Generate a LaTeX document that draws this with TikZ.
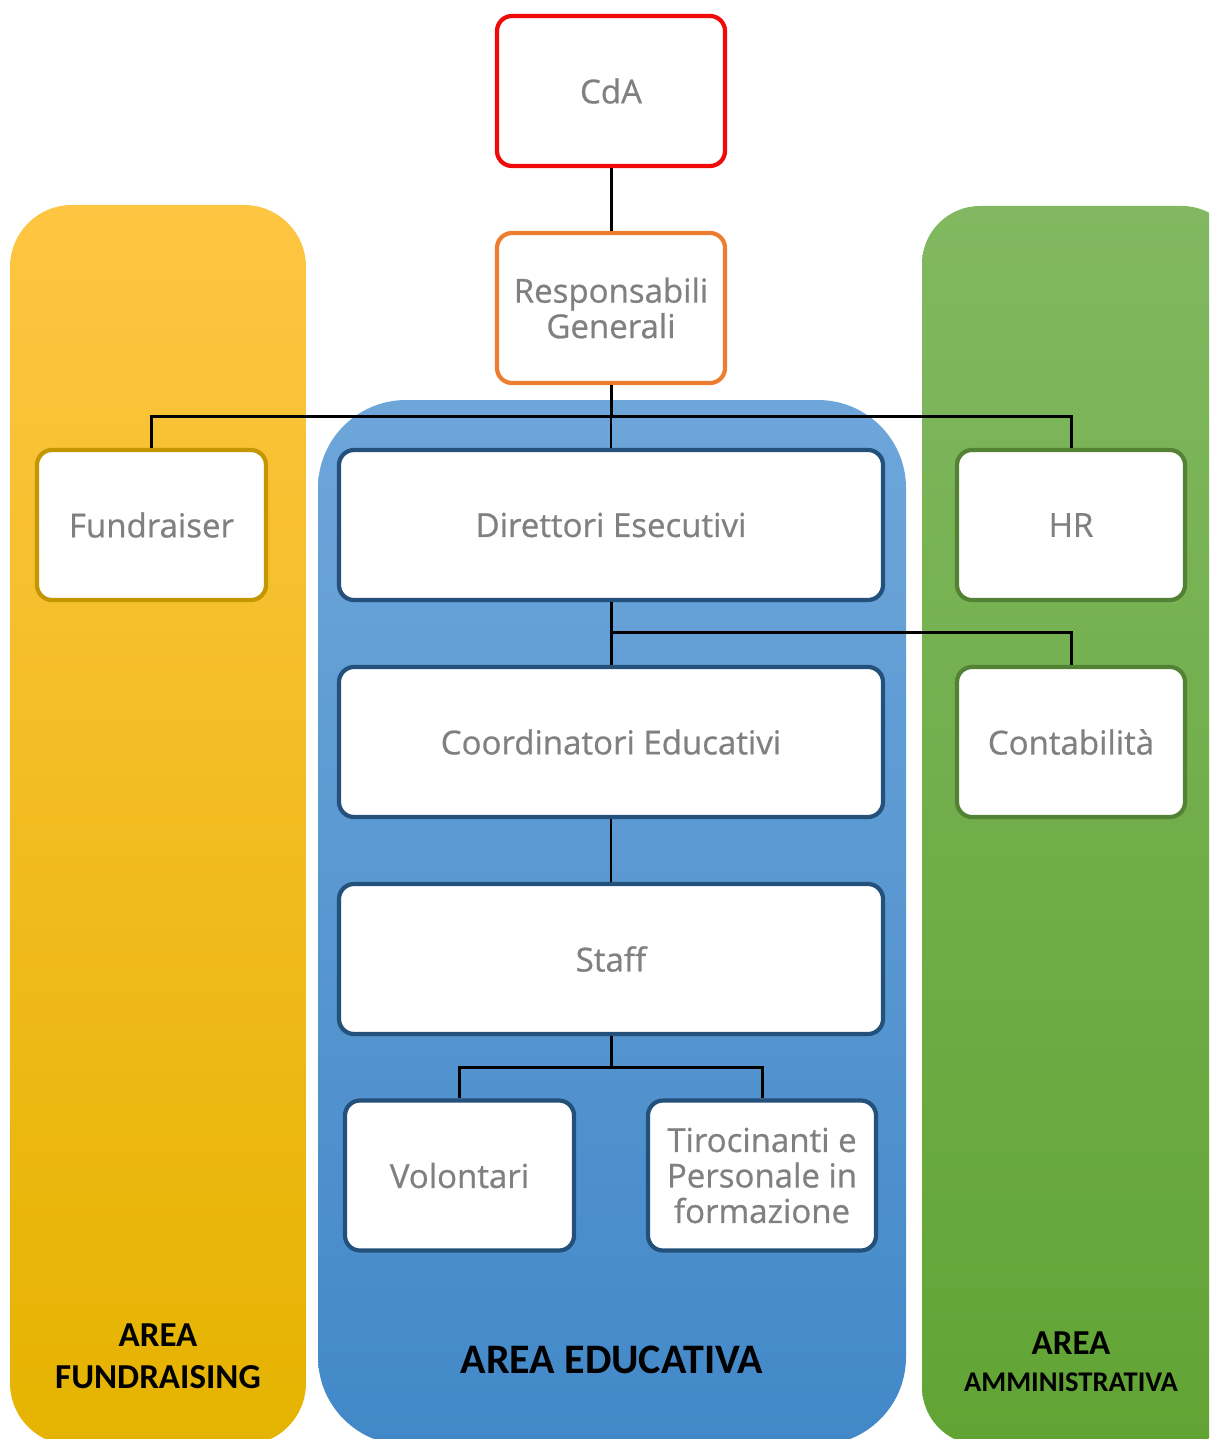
\documentclass[tikz,border=0pt]{standalone}
\usepackage{fontspec}
\newfontfamily\boxfam[FakeBold=0.7]{Open Sans}
\newfontfamily\labfam{Carlito}
\definecolor{txtgray}{RGB}{128,128,128}
\definecolor{cdared}{RGB}{240,10,10}
\definecolor{resporange}{RGB}{237,125,49}
\definecolor{goldline}{RGB}{196,150,0}
\definecolor{blueline}{RGB}{36,80,124}
\definecolor{greenline}{RGB}{84,130,53}
\definecolor{yeltop}{RGB}{254,197,66}
\definecolor{yelmid}{RGB}{252,196,0}
\definecolor{yelbot}{RGB}{229,179,0}
\definecolor{bluetop}{RGB}{110,166,218}
\definecolor{bluebot}{RGB}{66,136,200}
\definecolor{greentop}{RGB}{129,184,97}
\definecolor{greenbot}{RGB}{97,164,52}
\tikzset{
  box/.style={draw, line width=4.2pt, rounded corners=15pt, fill=white, text=txtgray,
    font=\boxfam\fontsize{33}{35.5}\selectfont, align=center, inner sep=0pt,
    minimum width=228pt, minimum height=150pt},
  widebox/.style={box, minimum width=544pt},
  conn/.style={draw=black, line width=3pt},
  thinconn/.style={draw=black, line width=1.4pt},
  arealab/.style={text=black, font=\labfam\bfseries, align=center, inner sep=0pt}
}
\begin{document}
\begin{tikzpicture}[x=1pt,y=-1pt]
\useasboundingbox (0,0) rectangle (1209,1439);
\clip (0,0) rectangle (1209,1439);
% area backgrounds
\shade[top color=yeltop, middle color=yelmid, bottom color=yelbot, rounded corners=62pt]
  (10,205) rectangle (306,1445);
\shade[top color=bluetop, bottom color=bluebot, rounded corners=88pt]
  (318,400) rectangle (906,1445);
\shade[top color=greentop, bottom color=greenbot, rounded corners=58pt]
  (922,206) rectangle (1240,1445);
% boxes
\node[box, draw=cdared] (cda) at (611,91) {CdA};
\node[box, draw=resporange] (resp) at (611,308) {Responsabili\\Generali};
\node[box, draw=goldline, minimum width=229pt] (fund) at (151.5,525) {Fundraiser};
\node[widebox, draw=blueline] (dir) at (611,525) {Direttori Esecutivi};
\node[box, draw=greenline] (hr) at (1071,525) {HR};
\node[widebox, draw=blueline] (coord) at (611,742) {Coordinatori Educativi};
\node[box, draw=greenline] (cont) at (1071,742) {Contabilità};
\node[widebox, draw=blueline] (staff) at (611,959) {Staff};
\node[box, draw=blueline, minimum width=229pt] (vol) at (459.5,1175.5) {Volontari};
\node[box, draw=blueline] (tir) at (762,1175.5) {Tirocinanti e\\Personale in\\formazione};
% connectors
\coordinate (j1) at ([yshift=-31pt]resp.south);
\coordinate (j2) at ([yshift=-30pt]dir.south);
\coordinate (j3) at ([yshift=-31pt]staff.south);
\draw[conn] (cda.south) -- (resp.north);
\draw[conn] (resp.south) -- (j1);
\draw[conn] (j1) -| (fund.north);
\draw[conn] (j1) -| (hr.north);
\draw[thinconn] (j1) -- (dir.north);
\draw[conn] (dir.south) -- (coord.north);
\draw[conn] (j2) -| (cont.north);
\draw[thinconn] (coord.south) -- (staff.north);
\draw[conn] (staff.south) -- (j3);
\draw[conn] (j3) -| (vol.north);
\draw[conn] (j3) -| (tir.north);
% area labels
\node[arealab, font=\labfam\bfseries\fontsize{35}{42}\selectfont] (labfund) at (158,1356) {AREA\\FUNDRAISING};
\node[arealab, font=\labfam\bfseries\fontsize{42}{48}\selectfont] (labedu) at (612,1360) {AREA EDUCATIVA};
\node[arealab, font=\labfam\bfseries\fontsize{35}{40}\selectfont] (labamm1) at (1071,1343) {AREA};
\node[arealab, font=\labfam\bfseries\fontsize{28.5}{34}\selectfont] (labamm2) at (1071,1382) {AMMINISTRATIVA};
\end{tikzpicture}
\end{document}
